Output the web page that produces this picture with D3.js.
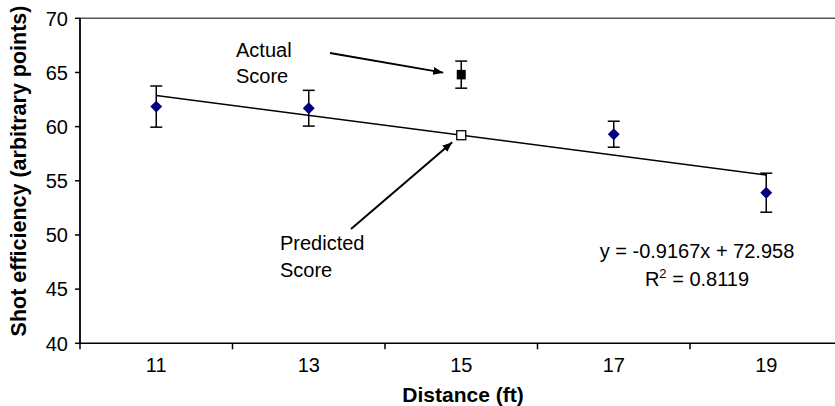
<!DOCTYPE html>
<html>
<head>
<meta charset="utf-8">
<script src="https://cdn.jsdelivr.net/npm/d3@7"></script>
<style>
  body { margin: 0; background: #fff; }
  svg { display: block; font-family: "Liberation Sans", Arial, sans-serif; }
</style>
</head>
<body>
<div id="chart"></div>
<script>
// measured points (distance in ft, efficiency, +/- error)
const distances = [11, 13, 17, 19];
const efficiency = [61.85, 61.7, 59.3, 53.9];
const errorBars = [1.9, 1.65, 1.2, 1.8];

// the held-out distance
const actualDistance = 15;
const actualScore = 64.8;
const actualError = 1.25;

// linear trend shown on the chart
const trendSlope = -0.9167;
const trendIntercept = 72.958;
const trendRange = [11, 19];

const yTicks = [40, 45, 50, 55, 60, 65, 70];
const xTickLabels = [11, 13, 15, 17, 19];
const xTickMarks = [10, 12, 14, 16, 18];

const width = 835;
const height = 406;
const margin = { top: 18.3, left: 80, bottom: 343.3, right: 842.5 };

const svg = d3.select("#chart")
              .append("svg")
              .attr("width", width)
              .attr("height", height);

const x = d3.scaleLinear()
            .domain([10, 20])
            .range([margin.left, margin.right]);

const y = d3.scaleLinear()
            .domain([40, 70])
            .range([margin.bottom, margin.top]);

// arrow head
svg.append("defs").append("marker")
   .attr("id", "head")
   .attr("viewBox", "0 0 10 8")
   .attr("refX", 10).attr("refY", 4)
   .attr("markerWidth", 10).attr("markerHeight", 8)
   .attr("markerUnits", "userSpaceOnUse")
   .attr("orient", "auto")
   .append("path")
   .attr("d", "M0,0 L10,4 L0,8 Z")
   .attr("fill", "#000");

// plot area top border
svg.append("line")
   .attr("x1", x(10)).attr("x2", x(20))
   .attr("y1", y(70)).attr("y2", y(70))
   .attr("stroke", "#555").attr("stroke-width", 1.5);

// y axis
svg.append("line")
   .attr("x1", x(10)).attr("x2", x(10))
   .attr("y1", y(40)).attr("y2", y(70))
   .attr("stroke", "#000").attr("stroke-width", 1.8);

yTicks.forEach(t => {
    svg.append("line")
       .attr("x1", x(10) - 5).attr("x2", x(10))
       .attr("y1", y(t)).attr("y2", y(t))
       .attr("stroke", "#000").attr("stroke-width", 1.5);
    svg.append("text")
       .attr("x", x(10) - 12).attr("y", y(t))
       .attr("dy", "0.36em")
       .attr("text-anchor", "end")
       .attr("font-size", 20)
       .attr("fill", "#000")
       .text(t);
});

// x axis
svg.append("line")
   .attr("x1", x(10)).attr("x2", x(20))
   .attr("y1", y(40)).attr("y2", y(40))
   .attr("stroke", "#000").attr("stroke-width", 1.5);

xTickMarks.forEach(t => {
    svg.append("line")
       .attr("x1", x(t)).attr("x2", x(t))
       .attr("y1", y(40)).attr("y2", y(40) + 6)
       .attr("stroke", "#000").attr("stroke-width", 1.5);
});

xTickLabels.forEach(t => {
    svg.append("text")
       .attr("x", x(t)).attr("y", 372)
       .attr("text-anchor", "middle")
       .attr("font-size", 20)
       .attr("fill", "#000")
       .text(t);
});

// axis titles
svg.append("text")
   .attr("x", 463).attr("y", 402)
   .attr("text-anchor", "middle")
   .attr("font-size", 21).attr("font-weight", "bold")
   .text("Distance (ft)");

svg.append("text")
   .attr("transform", "translate(26, 171) rotate(-90)")
   .attr("text-anchor", "middle")
   .attr("font-size", 21.5).attr("font-weight", "bold")
   .text("Shot efficiency (arbitrary points)");

// trend line
svg.append("line")
   .attr("x1", x(trendRange[0])).attr("y1", y(trendSlope * trendRange[0] + trendIntercept))
   .attr("x2", x(trendRange[1])).attr("y2", y(trendSlope * trendRange[1] + trendIntercept))
   .attr("stroke", "#000").attr("stroke-width", 1.5);

// error bars
function errorBar(cx, value, err) {
    const g = svg.append("g").attr("stroke", "#000").attr("stroke-width", 1.5);
    g.append("line")
     .attr("x1", x(cx)).attr("x2", x(cx))
     .attr("y1", y(value + err)).attr("y2", y(value - err));
    [value + err, value - err].forEach(v => {
        g.append("line")
         .attr("x1", x(cx) - 6).attr("x2", x(cx) + 6)
         .attr("y1", y(v)).attr("y2", y(v));
    });
}

distances.forEach((d, i) => errorBar(d, efficiency[i], errorBars[i]));
errorBar(actualDistance, actualScore, actualError);

// diamonds
distances.forEach((d, i) => {
    svg.append("path")
       .attr("d", d3.symbol().type(d3.symbolDiamond2).size(90)())
       .attr("transform", `translate(${x(d)}, ${y(efficiency[i])})`)
       .attr("fill", "#000080");
});

// actual score (filled square)
svg.append("rect")
   .attr("x", x(actualDistance) - 4.5).attr("y", y(actualScore) - 4.75)
   .attr("width", 9).attr("height", 9.5)
   .attr("fill", "#000");

// predicted score (open square on trend)
const predicted = trendSlope * actualDistance + trendIntercept;
svg.append("rect")
   .attr("x", x(actualDistance) - 4.5).attr("y", y(predicted) - 4.5)
   .attr("width", 9).attr("height", 9)
   .attr("fill", "#fff").attr("stroke", "#000").attr("stroke-width", 1.3);

// annotations
const px = x(actualDistance);

svg.append("line")
   .attr("x1", 330).attr("y1", 53)
   .attr("x2", px - 18).attr("y2", y(actualScore) - 2)
   .attr("stroke", "#000").attr("stroke-width", 2)
   .attr("marker-end", "url(#head)");

svg.append("line")
   .attr("x1", 351).attr("y1", 229)
   .attr("x2", px - 9).attr("y2", y(predicted) + 7)
   .attr("stroke", "#000").attr("stroke-width", 2)
   .attr("marker-end", "url(#head)");

function label(lines, lx, ly, anchor) {
    lines.forEach((s, i) => {
        svg.append("text")
           .attr("x", lx).attr("y", ly + i * 26.5)
           .attr("text-anchor", anchor)
           .attr("font-size", 20)
           .attr("fill", "#000")
           .text(s);
    });
}

label(["Actual", "Score"], 236, 56.5, "start");
label(["Predicted", "Score"], 280, 250, "start");

// trend equation
svg.append("text")
   .attr("x", 697).attr("y", 258)
   .attr("text-anchor", "middle")
   .attr("font-size", 20)
   .text(`y = ${trendSlope}x + ${trendIntercept}`);

const r2 = svg.append("text")
   .attr("x", 697).attr("y", 286)
   .attr("text-anchor", "middle")
   .attr("font-size", 20);
r2.append("tspan").text("R");
r2.append("tspan").attr("dy", -8).attr("font-size", 13).text("2");
r2.append("tspan").attr("dy", 8).text(" = 0.8119");
</script>
</body>
</html>
